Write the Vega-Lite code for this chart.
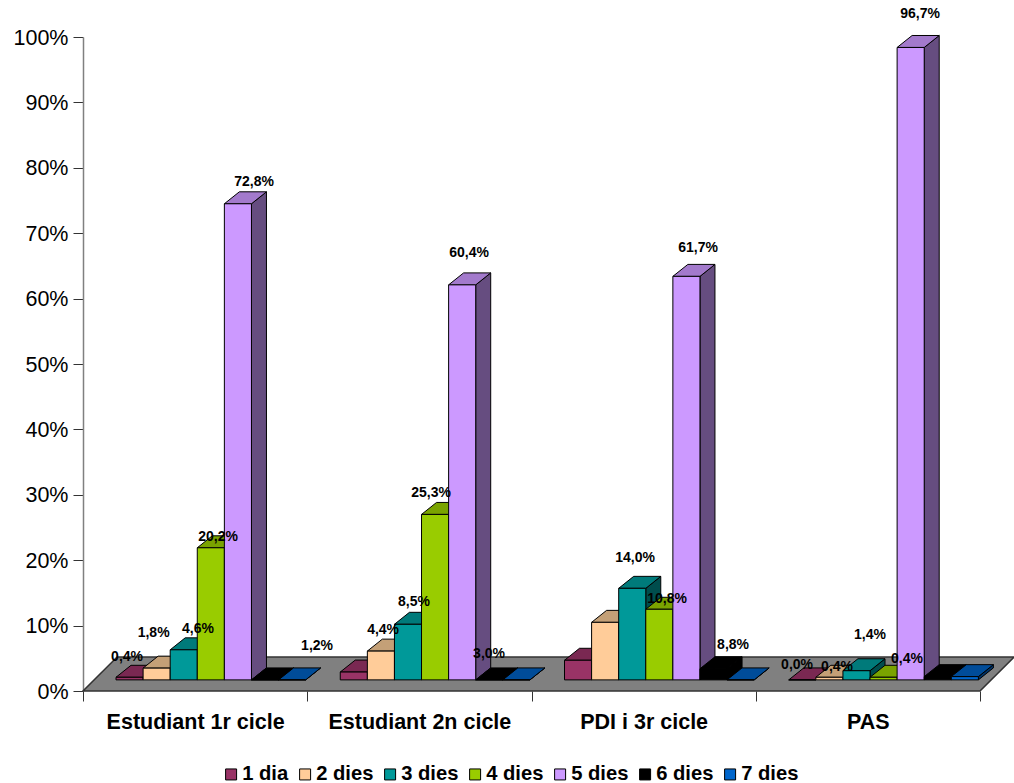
{
  "$schema": "https://vega.github.io/schema/vega-lite/v6.json",
  "width": 897,
  "height": 654,
  "autosize": "none",
  "padding": {"left": 83, "top": 37, "right": 34, "bottom": 92},
  "background": "white",
  "config": {"view": {"stroke": null}, "font": "Liberation Sans"},
  "datasets": {
    "days": [
      {"group": "Estudiant 1r cicle", "day": "1 dia", "value": 0.4, "label": "0,4%"},
      {"group": "Estudiant 1r cicle", "day": "2 dies", "value": 1.8, "label": "1,8%"},
      {"group": "Estudiant 1r cicle", "day": "3 dies", "value": 4.6, "label": "4,6%"},
      {"group": "Estudiant 1r cicle", "day": "4 dies", "value": 20.2, "label": "20,2%"},
      {"group": "Estudiant 1r cicle", "day": "5 dies", "value": 72.8, "label": "72,8%"},
      {"group": "Estudiant 1r cicle", "day": "6 dies", "value": 0},
      {"group": "Estudiant 1r cicle", "day": "7 dies", "value": 0},
      {"group": "Estudiant 2n cicle", "day": "1 dia", "value": 1.2, "label": "1,2%"},
      {"group": "Estudiant 2n cicle", "day": "2 dies", "value": 4.4, "label": "4,4%"},
      {"group": "Estudiant 2n cicle", "day": "3 dies", "value": 8.5, "label": "8,5%"},
      {"group": "Estudiant 2n cicle", "day": "4 dies", "value": 25.3, "label": "25,3%"},
      {"group": "Estudiant 2n cicle", "day": "5 dies", "value": 60.4, "label": "60,4%"},
      {"group": "Estudiant 2n cicle", "day": "6 dies", "value": 0},
      {"group": "Estudiant 2n cicle", "day": "7 dies", "value": 0},
      {"group": "PDI i 3r cicle", "day": "1 dia", "value": 3.0, "label": "3,0%"},
      {"group": "PDI i 3r cicle", "day": "2 dies", "value": 8.8, "label": "8,8%"},
      {"group": "PDI i 3r cicle", "day": "3 dies", "value": 14.0, "label": "14,0%"},
      {"group": "PDI i 3r cicle", "day": "4 dies", "value": 10.8, "label": "10,8%"},
      {"group": "PDI i 3r cicle", "day": "5 dies", "value": 61.7, "label": "61,7%"},
      {"group": "PDI i 3r cicle", "day": "6 dies", "value": 1.7},
      {"group": "PDI i 3r cicle", "day": "7 dies", "value": 0},
      {"group": "PAS", "day": "1 dia", "value": 0.0, "label": "0,0%"},
      {"group": "PAS", "day": "2 dies", "value": 0.4, "label": "0,4%"},
      {"group": "PAS", "day": "3 dies", "value": 1.4, "label": "1,4%"},
      {"group": "PAS", "day": "4 dies", "value": 0.4, "label": "0,4%"},
      {"group": "PAS", "day": "5 dies", "value": 96.7, "label": "96,7%"},
      {"group": "PAS", "day": "6 dies", "value": 0.5},
      {"group": "PAS", "day": "7 dies", "value": 0.5}
    ],
    "floor": [
      {"level": 0, "from": 0, "to": 4},
      {"level": 5.2, "from": 0.152, "to": 4.152}
    ]
  },
  "data": {"name": "days"},
  "transform": [
    {"calculate": "indexof(['Estudiant 1r cicle','Estudiant 2n cicle','PDI i 3r cicle','PAS'], datum.group)", "as": "g"},
    {"calculate": "indexof(['1 dia','2 dies','3 dies','4 dies','5 dies','6 dies','7 dies'], datum.day)", "as": "i"},
    {"calculate": "datum.g + 0.1472 + 0.1208 * datum.i", "as": "left"},
    {"calculate": "datum.left + 0.1208", "as": "right"},
    {"calculate": "1.7 + datum.value", "as": "top"},
    {"calculate": "datum.group + datum.day", "as": "bar"}
  ],
  "layer": [
    {
      "data": {"name": "floor"},
      "transform": [],
      "mark": {"type": "area", "orient": "horizontal", "fill": "#808080", "stroke": "#333333", "strokeWidth": 1.5},
      "encoding": {
        "x": {
          "field": "from",
          "type": "quantitative",
          "scale": {"domain": [0, 4], "nice": false, "zero": false},
          "axis": {
            "title": null,
            "values": [0, 0.5, 1, 1.5, 2, 2.5, 3, 3.5, 4],
            "grid": false,
            "domain": false,
            "tickSize": 10,
            "tickColor": "#333333",
            "tickOpacity": {"condition": {"test": "datum.value % 1 === 0", "value": 1}, "value": 0},
            "labelExpr": "datum.value === 0.5 ? 'Estudiant 1r cicle' : datum.value === 1.5 ? 'Estudiant 2n cicle' : datum.value === 2.5 ? 'PDI i 3r cicle' : datum.value === 3.5 ? 'PAS' : ''",
            "labelFont": "Liberation Sans",
            "labelFontWeight": "bold",
            "labelFontSize": 21.5,
            "labelColor": "black",
            "labelPadding": 10,
            "labelFlush": false,
            "labelOverlap": false,
            "labelLimit": 400
          }
        },
        "x2": {"field": "to"},
        "y": {
          "field": "level",
          "type": "quantitative",
          "scale": {"domain": [0, 100], "nice": false},
          "axis": {
            "title": null,
            "values": [0, 10, 20, 30, 40, 50, 60, 70, 80, 90, 100],
            "grid": false,
            "domainColor": "#808080",
            "domainWidth": 1.5,
            "tickSize": 10,
            "tickColor": "#333333",
            "labelExpr": "datum.value + '%'",
            "labelFont": "Liberation Sans",
            "labelFontSize": 21.5,
            "labelColor": "black",
            "labelPadding": 5,
            "labelOffset": 1
          }
        }
      }
    },
    {
      "transform": [
        {"calculate": "datum.value", "as": "near"},
        {"calculate": "datum.value", "as": "far"},
        {"fold": ["near", "far"], "as": ["edge", "edgeValue"]},
        {"calculate": "datum.edge === 'far' ? 1 : 0", "as": "depth"},
        {"calculate": "datum.right + 0.0669 * datum.depth", "as": "sx"},
        {"calculate": "1.7 + 1.83 * datum.depth", "as": "sLow"},
        {"calculate": "datum.sLow + datum.value", "as": "sHigh"}
      ],
      "mark": {"type": "area", "stroke": "black", "strokeWidth": 1},
      "encoding": {
        "x": {"field": "sx", "type": "quantitative"},
        "y": {"field": "sHigh", "type": "quantitative", "stack": null},
        "y2": {"field": "sLow"},
        "detail": {"field": "bar"},
        "color": {
          "field": "day",
          "type": "nominal",
          "legend": null,
          "scale": {
            "domain": ["1 dia", "2 dies", "3 dies", "4 dies", "5 dies", "6 dies", "7 dies"],
            "range": ["#4d1a33", "#80664d", "#004d4d", "#4d6600", "#664d80", "#000000", "#003366"]
          }
        }
      }
    },
    {
      "transform": [
        {"calculate": "datum.value", "as": "near"},
        {"calculate": "datum.value", "as": "far"},
        {"fold": ["near", "far"], "as": ["edge", "edgeValue"]},
        {"calculate": "datum.edge === 'far' ? 1 : 0", "as": "depth"},
        {"calculate": "datum.left + 0.0669 * datum.depth", "as": "tLeft"},
        {"calculate": "datum.right + 0.0669 * datum.depth", "as": "tRight"},
        {"calculate": "datum.top + 1.83 * datum.depth", "as": "tLevel"}
      ],
      "mark": {"type": "area", "orient": "horizontal", "stroke": "black", "strokeWidth": 1},
      "encoding": {
        "x": {"field": "tLeft", "type": "quantitative", "stack": null},
        "x2": {"field": "tRight"},
        "y": {"field": "tLevel", "type": "quantitative"},
        "detail": {"field": "bar"},
        "color": {
          "field": "day",
          "type": "nominal",
          "legend": null,
          "scale": {
            "domain": ["1 dia", "2 dies", "3 dies", "4 dies", "5 dies", "6 dies", "7 dies"],
            "range": ["#7a2852", "#c4a077", "#007a7a", "#7aa300", "#a37acc", "#000000", "#004c99"]
          }
        }
      }
    },
    {
      "transform": [{"calculate": "1.7", "as": "floorLevel"}],
      "mark": {"type": "rect", "stroke": "black", "strokeWidth": 1},
      "encoding": {
        "x": {"field": "left", "type": "quantitative"},
        "x2": {"field": "right"},
        "y": {"field": "top", "type": "quantitative"},
        "y2": {"field": "floorLevel"},
        "color": {
          "field": "day",
          "type": "nominal",
          "scale": {
            "domain": ["1 dia", "2 dies", "3 dies", "4 dies", "5 dies", "6 dies", "7 dies"],
            "range": ["#993366", "#ffcc99", "#009999", "#99cc00", "#cc99ff", "#000000", "#0066cc"]
          },
          "legend": {
            "title": null,
            "orient": "none",
            "legendX": 138,
            "legendY": 727,
            "direction": "horizontal",
            "columns": 7,
            "columnPadding": 6,
            "symbolType": "square",
            "symbolSize": 121,
            "symbolStrokeColor": "black",
            "symbolStrokeWidth": 1,
            "labelFont": "Liberation Sans",
            "labelFontWeight": "bold",
            "labelFontSize": 20.2,
            "labelColor": "black",
            "labelOffset": 1,
            "labelLimit": 200
          }
        }
      }
    },
    {
      "transform": [
        {"filter": "isValid(datum.label)"},
        {"calculate": "[[-2.5,-3,14.3,7.2,16.1],[-36.75,2.2,6,-4,6.9],[-89,127.9,2.8,7.7,11.6],[-5.25,7.65,13.55,23.45,9.35]][datum.g][datum.i]", "as": "shift"},
        {"calculate": "[[20,34.7,20.4,10.9,21.9],[26.2,20.7,22.4,21.5,32],[6.4,-22.6,30.4,10.7,28.5],[15,10.4,35.8,18.4,33.6]][datum.g][datum.i]", "as": "lift"},
        {"calculate": "datum.left + 0.0604 + datum.shift / 224.25", "as": "labelX"},
        {"calculate": "datum.top + datum.lift / 6.54", "as": "labelY"}
      ],
      "mark": {"type": "text", "font": "Liberation Sans", "fontWeight": "bold", "fontSize": 14, "color": "black", "align": "center", "baseline": "middle"},
      "encoding": {
        "x": {"field": "labelX", "type": "quantitative"},
        "y": {"field": "labelY", "type": "quantitative"},
        "text": {"field": "label"}
      }
    }
  ],
  "resolve": {"scale": {"color": "independent"}}
}
